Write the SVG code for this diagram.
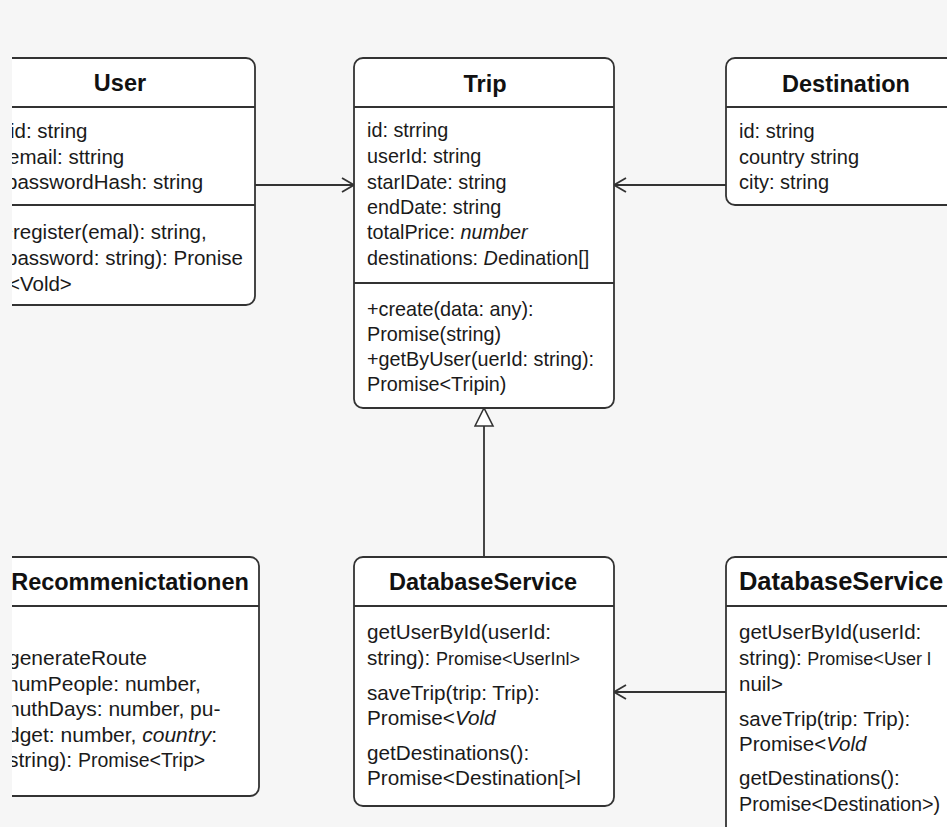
<svg xmlns="http://www.w3.org/2000/svg" width="947" height="827" viewBox="0 0 947 827">
<style>
.box{fill:#fff;stroke:#333;stroke-width:1.8}
.sep{stroke:#333;stroke-width:1.8}
.title{font-family:"Liberation Sans",Arial,sans-serif;font-weight:bold;font-size:23.5px;fill:#111;text-anchor:middle}
.t{font-family:"Liberation Sans",Arial,sans-serif;fill:#1a1a1a}
.s{font-size:18px}
.i{font-style:italic}
.conn{stroke:#333;stroke-width:1.8;fill:none}
</style>
<defs>
<clipPath id="leftclip"><rect x="12" y="0" width="935" height="827"/></clipPath>
<marker id="open" markerWidth="16" markerHeight="16" refX="13" refY="8" orient="auto" markerUnits="userSpaceOnUse">
<path d="M1,1 L13,8 L1,15" fill="none" stroke="#333" stroke-width="1.8"/>
</marker>
<marker id="tri" markerWidth="22" markerHeight="22" refX="19" refY="10" orient="auto" markerUnits="userSpaceOnUse">
<path d="M1,1 L19,10 L1,19 Z" fill="#fff" stroke="#333" stroke-width="1.6"/>
</marker>
</defs>
<rect x="0" y="0" width="947" height="827" fill="#f6f6f6"/>

<g id="connectors">
<line class="conn" x1="255" y1="185" x2="354" y2="185" marker-end="url(#open)"/>
<line class="conn" x1="726" y1="185" x2="614" y2="185" marker-end="url(#open)"/>
<line class="conn" x1="726" y1="692" x2="614" y2="692" marker-end="url(#open)"/>
<line class="conn" x1="484" y1="557" x2="484" y2="408" marker-end="url(#tri)"/>
</g>

<g id="user" clip-path="url(#leftclip)" font-size="20.5">
<rect class="box" x="-5" y="58" width="260" height="247" rx="9"/>
<line class="sep" x1="-5" y1="107" x2="255" y2="107"/>
<line class="sep" x1="-5" y1="205" x2="255" y2="205"/>
<text class="title" x="120" y="91">User</text>
<text class="t" x="10" y="138">id: string</text>
<text class="t" x="8" y="164">email: sttring</text>
<text class="t" x="6" y="189">passwordHash: string</text>
<text class="t" x="1" y="239">+register(emal): string,</text>
<text class="t" x="6" y="265">password: string): Pronise</text>
<text class="t" x="8" y="291">&lt;Vold&gt;</text>
</g>

<g id="trip" font-size="19.8">
<rect class="box" x="354" y="58" width="260" height="350" rx="9"/>
<line class="sep" x1="354" y1="107" x2="614" y2="107"/>
<line class="sep" x1="354" y1="283" x2="614" y2="283"/>
<text class="title" x="485" y="92">Trip</text>
<text class="t" x="367" y="137">id: strring</text>
<text class="t" x="367" y="163">userId: string</text>
<text class="t" x="367" y="189">starIDate: string</text>
<text class="t" x="367" y="214">endDate: string</text>
<text class="t" x="367" y="239">totalPrice: <tspan class="i">number</tspan></text>
<text class="t" x="367" y="265">destinations: <tspan class="i">D</tspan>edination[]</text>
<text class="t" x="367" y="316">+create(data: any):</text>
<text class="t" x="367" y="341">Promise(string)</text>
<text class="t" x="367" y="366">+getByUser(uerId: string):</text>
<text class="t" x="367" y="391">Promise&lt;Tripin)</text>
</g>

<g id="destination" font-size="20">
<rect class="box" x="726" y="58" width="260" height="147" rx="9"/>
<line class="sep" x1="726" y1="107" x2="986" y2="107"/>
<text class="title" x="846" y="92">Destination</text>
<text class="t" x="739" y="138">id: string</text>
<text class="t" x="739" y="164">country string</text>
<text class="t" x="739" y="189">city: string</text>
</g>

<g id="recommendation" clip-path="url(#leftclip)" font-size="21">
<rect class="box" x="-1" y="557" width="260" height="239" rx="9"/>
<line class="sep" x1="-1" y1="606" x2="259" y2="606"/>
<text class="title" x="130" y="590">Recommenictationen</text>
<text class="t" x="8" y="665">generateRoute</text>
<text class="t" x="7" y="691">numPeople: number,</text>
<text class="t" x="8" y="716">nuthDays: number, pu-</text>
<text class="t" x="8" y="742">dget: number, <tspan class="i">country</tspan>:</text>
<text class="t" x="8" y="767">string): <tspan style="font-size:19.5px">Promise&lt;Trip&gt;</tspan></text>
</g>

<g id="databaseservice" font-size="20.7">
<rect class="box" x="354" y="557" width="260" height="249" rx="9"/>
<line class="sep" x1="354" y1="606" x2="614" y2="606"/>
<text class="title" x="483" y="590">DatabaseService</text>
<text class="t" x="367" y="639">getUserById(userId:</text>
<text class="t" x="367" y="665">string): <tspan class="s">Promise&lt;UserInl&gt;</tspan></text>
<text class="t" x="367" y="700">saveTrip(trip: Trip):</text>
<text class="t" x="367" y="725">Promise&lt;<tspan class="i">Vold</tspan></text>
<text class="t" x="367" y="760">getDestinations():</text>
<text class="t" x="367" y="785">Promise&lt;Destination[&gt;l</text>
</g>

<g id="databaseservice2" font-size="20.5">
<rect class="box" x="726" y="557" width="260" height="290" rx="9"/>
<line class="sep" x1="726" y1="606" x2="986" y2="606"/>
<text class="title" x="841" y="590" style="font-size:25.5px">DatabaseService</text>
<text class="t" x="739" y="639">getUserById(userId:</text>
<text class="t" x="739" y="665">string): <tspan class="s">Promise&lt;User l</tspan></text>
<text class="t" x="739" y="691">nuil&gt;</text>
<text class="t" x="739" y="726">saveTrip(trip: Trip):</text>
<text class="t" x="739" y="751">Promise&lt;<tspan class="i">Vold</tspan></text>
<text class="t" x="739" y="785">getDestinations():</text>
<text class="t" x="739" y="811" style="font-size:19.8px">Promise&lt;Destination&gt;)</text>
</g>
</svg>
